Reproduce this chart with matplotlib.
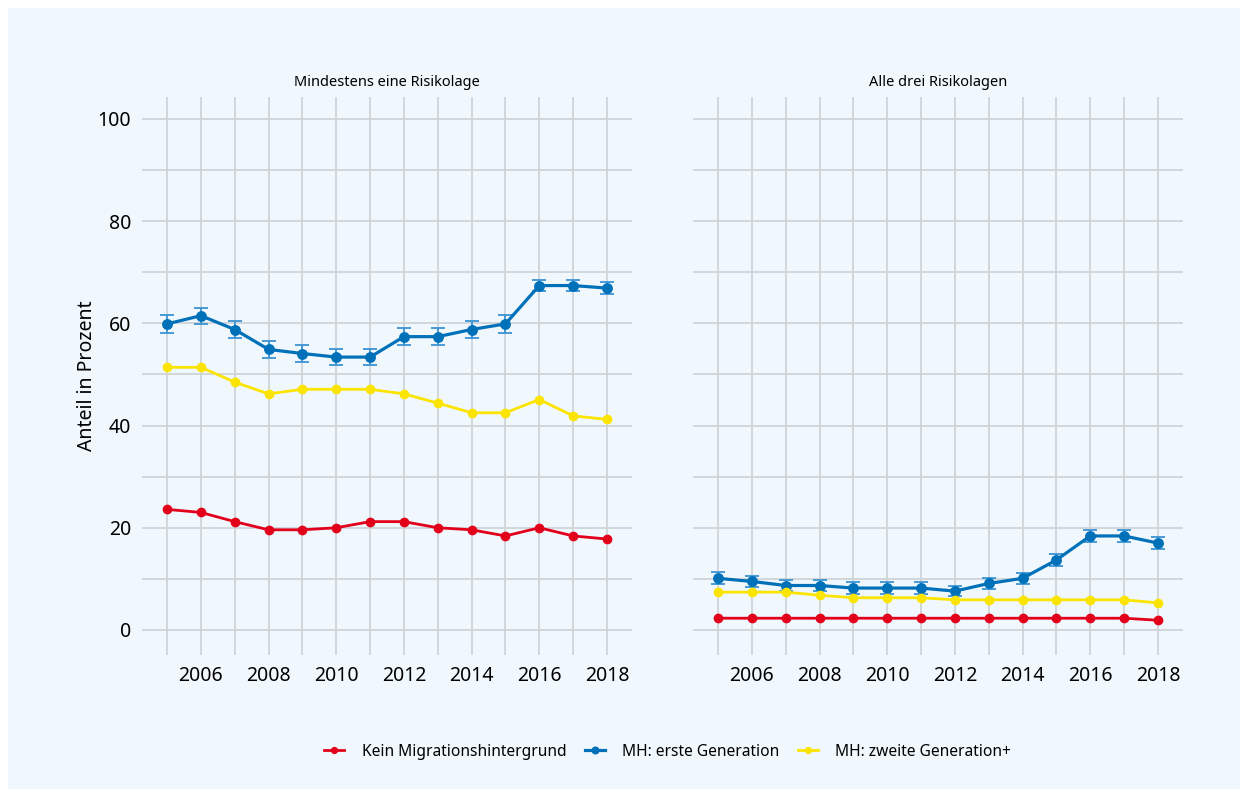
import matplotlib
matplotlib.use("Agg")
import matplotlib.pyplot as plt
from matplotlib.patches import Rectangle

plt.rcParams['font.family'] = ['Noto Sans', 'DejaVu Sans']

years = list(range(2005, 2019))

# Mindestens eine Risikolage
kein_1 = [23.6, 23.0, 21.2, 19.6, 19.6, 20.0, 21.2, 21.2, 20.0, 19.6, 18.4, 20.0, 18.4, 17.8]
erste_1 = [59.9, 61.5, 58.8, 54.9, 54.1, 53.4, 53.4, 57.4, 57.4, 58.8, 59.9, 67.4, 67.4, 66.9]
erste_1_err = [1.7, 1.6, 1.6, 1.7, 1.6, 1.6, 1.6, 1.6, 1.6, 1.6, 1.7, 1.1, 1.1, 1.1]
zweite_1 = [51.4, 51.4, 48.5, 46.2, 47.1, 47.1, 47.1, 46.2, 44.4, 42.5, 42.5, 45.1, 41.9, 41.2]

# Alle drei Risikolagen
kein_2 = [2.3, 2.3, 2.3, 2.3, 2.3, 2.3, 2.3, 2.3, 2.3, 2.3, 2.3, 2.3, 2.3, 1.9]
erste_2 = [10.1, 9.5, 8.7, 8.7, 8.2, 8.2, 8.2, 7.6, 9.1, 10.1, 13.7, 18.4, 18.4, 17.0]
erste_2_err = [1.2, 1.1, 1.1, 1.1, 1.1, 1.1, 1.1, 1.0, 1.1, 1.1, 1.1, 1.1, 1.1, 1.1]
zweite_2 = [7.4, 7.4, 7.4, 6.8, 6.3, 6.3, 6.3, 5.9, 5.9, 5.9, 5.9, 5.9, 5.9, 5.3]

titles = ["Mindestens eine Risikolage", "Alle drei Risikolagen"]
labels = ["Kein Migrationshintergrund", "MH: erste Generation", "MH: zweite Generation+"]

red = "#e2001a"
blue = "#0071b9"
blue_err = "#3b93d3"
yellow = "#fbe400"
grid_col = "#cfd4d8"
bg = "#f0f8fd"

fig = plt.figure(figsize=(12.48, 7.97), dpi=100)
fig.patches.append(Rectangle((8 / 1248, 8 / 797), 1232 / 1248, 781 / 797,
                             transform=fig.transFigure, facecolor=bg,
                             edgecolor="none", zorder=-10))

ax1 = fig.add_axes([142 / 1248, 1 - 655 / 797, 490 / 1248, 558 / 797])
ax2 = fig.add_axes([693 / 1248, 1 - 655 / 797, 490 / 1248, 558 / 797])

data = [(kein_1, erste_1, erste_1_err, zweite_1), (kein_2, erste_2, erste_2_err, zweite_2)]

for ax, title, (k, e, err, z) in zip([ax1, ax2], titles, data):
    ax.set_facecolor("none")
    ax.set_xlim(2004.26, 2018.74)
    ax.set_ylim(-4.9, 104.3)
    ax.set_xticks(years, minor=True)
    ax.set_xticks(range(2006, 2019, 2))
    ax.set_yticks(range(0, 101, 10), minor=True)
    ax.set_yticks(range(0, 101, 20))
    ax.grid(True, which="both", color=grid_col, linewidth=1.3)
    ax.set_axisbelow(True)
    for s in ax.spines.values():
        s.set_visible(False)
    ax.tick_params(which="both", length=0, labelsize=14, pad=8)
    ax.set_title(title, fontsize=10.5, pad=8)

    ax.plot(years, k, color=red, lw=2, marker="o", ms=6, label=labels[0], zorder=3)
    ax.errorbar(years, e, yerr=err, fmt="none", ecolor=blue_err, elinewidth=1.3,
                capsize=5, capthick=1.3, zorder=3)
    ax.plot(years, e, color=blue, lw=2.3, marker="o", ms=6.8, label=labels[1], zorder=4)
    ax.plot(years, z, color=yellow, lw=2, marker="o", ms=6, label=labels[2], zorder=5)

ax2.set_yticklabels([])
ax1.set_ylabel("Anteil in Prozent", fontsize=14, labelpad=0)

handles, labs = ax1.get_legend_handles_labels()
fig.legend(handles, labs, loc="center", bbox_to_anchor=(0.535, 0.057), ncol=3,
           frameon=False, fontsize=11.2, handlelength=1.3, handletextpad=1.1,
           columnspacing=1.2, markerscale=0.7)

fig.savefig("out.png", dpi=100)
